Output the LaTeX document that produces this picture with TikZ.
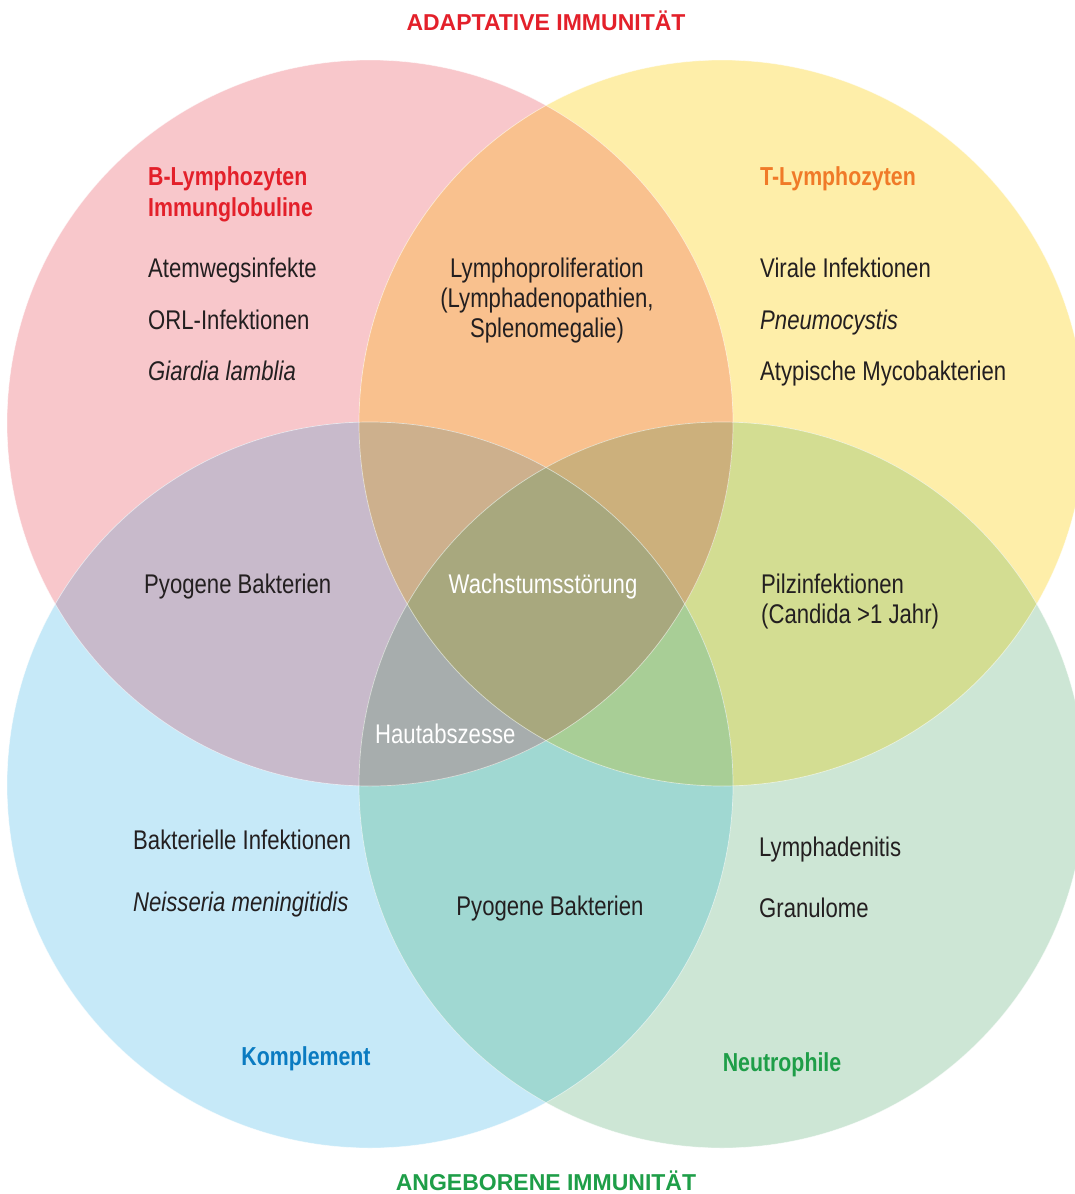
\documentclass[tikz,border=0pt]{standalone}
\usepackage{fontspec}
\setmainfont[FakeStretch=0.82]{Liberation Sans}
\newfontfamily\titlefont{Liberation Sans}
\definecolor{cP}{HTML}{F8C7CB}
\definecolor{cY}{HTML}{FEEEA9}
\definecolor{cB}{HTML}{C6E9F8}
\definecolor{cG}{HTML}{CDE6D5}
\definecolor{cPY}{HTML}{F9C18E}
\definecolor{cPB}{HTML}{C8BACB}
\definecolor{cYG}{HTML}{D3DD92}
\definecolor{cBG}{HTML}{A0D8D2}
\definecolor{cPG}{HTML}{B8B090}
\definecolor{cYB}{HTML}{B8C8A0}
\definecolor{cPYB}{HTML}{CDB08D}
\definecolor{cPYG}{HTML}{CCB07C}
\definecolor{cPBG}{HTML}{A7ADAD}
\definecolor{cYBG}{HTML}{A8CE96}
\definecolor{cPYBG}{HTML}{A8A87E}
\definecolor{ctext}{HTML}{231F20}
\definecolor{cred}{HTML}{E3202A}
\definecolor{corange}{HTML}{F07A28}
\definecolor{cbluet}{HTML}{0A7BC1}
\definecolor{cgreent}{HTML}{1E9E48}
\tikzset{
  lbl/.style={anchor=base west, inner sep=0pt, text=ctext, font=\fontsize{27}{32}\selectfont},
  clbl/.style={anchor=base, inner sep=0pt, text=ctext, font=\fontsize{27}{32}\selectfont, align=center},
  hdr/.style={anchor=base west, inner sep=0pt, font=\fontsize{26}{31}\selectfont\bfseries},
  chdr/.style={anchor=base, inner sep=0pt, font=\fontsize{26}{31}\selectfont\bfseries},
  ttl/.style={anchor=base, inner sep=0pt, font=\fontsize{23}{28}\selectfont\titlefont\bfseries},
  wlbl/.style={anchor=base west, inner sep=0pt, text=white, font=\fontsize{27}{32}\selectfont},
  rim/.style={draw=white, draw opacity=0.55, line width=0.7pt}
}
\def\cirP{(370,423) circle[radius=363]}
\def\cirY{(722,423) circle[radius=363]}
\def\cirB{(370,785) circle[radius=363]}
\def\cirG{(722,785) circle[radius=363]}
\begin{document}
\begin{tikzpicture}[x=1pt,y=-1pt]
\useasboundingbox (0,0) rectangle (1075,1194);
\begin{scope}
\clip (0,0) rectangle (1075,1194);
% single circles
\fill[cP] \cirP;
\fill[cY] \cirY;
\fill[cB] \cirB;
\fill[cG] \cirG;
% pairs
\begin{scope}\clip \cirP; \fill[cPY] \cirY; \end{scope}
\begin{scope}\clip \cirP; \fill[cPB] \cirB; \end{scope}
\begin{scope}\clip \cirY; \fill[cYG] \cirG; \end{scope}
\begin{scope}\clip \cirB; \fill[cBG] \cirG; \end{scope}
\begin{scope}\clip \cirP; \fill[cPG] \cirG; \end{scope}
\begin{scope}\clip \cirY; \fill[cYB] \cirB; \end{scope}
% triples
\begin{scope}\clip \cirP; \clip \cirY; \fill[cPYB] \cirB; \end{scope}
\begin{scope}\clip \cirP; \clip \cirY; \fill[cPYG] \cirG; \end{scope}
\begin{scope}\clip \cirP; \clip \cirB; \fill[cPBG] \cirG; \end{scope}
\begin{scope}\clip \cirY; \clip \cirB; \fill[cYBG] \cirG; \end{scope}
% all four
\begin{scope}\clip \cirP; \clip \cirY; \clip \cirB; \fill[cPYBG] \cirG; \end{scope}
% rims
\draw[rim] \cirP;
\draw[rim] \cirY;
\draw[rim] \cirB;
\draw[rim] \cirG;
\end{scope}

\node[ttl, text=cred] (tadapt) at (546,30) {ADAPTATIVE IMMUNITÄT};
\node[ttl, text=cgreent] (tangeb) at (546,1190) {ANGEBORENE IMMUNITÄT};

\node[hdr, text=cred] (hb1) at (148,185) {B-Lymphozyten};
\node[hdr, text=cred] (hb2) at (148,216) {Immunglobuline};
\node[lbl] (b1) at (148,277) {Atemwegsinfekte};
\node[lbl] (b2) at (148,329) {ORL-Infektionen};
\node[lbl] (b3) at (148,380) {\itshape Giardia lamblia};

\node[clbl] (bt1) at (547,277) {Lymphoproliferation};
\node[clbl] (bt2) at (547,307) {(Lymphadenopathien,};
\node[clbl] (bt3) at (547,337) {Splenomegalie)};

\node[hdr, text=corange] (ht) at (760,185) {T-Lymphozyten};
\node[lbl] (t1) at (760,277) {Virale Infektionen};
\node[lbl] (t2) at (760,329) {\itshape Pneumocystis};
\node[lbl] (t3) at (760,380) {Atypische Mycobakterien};

\node[lbl] (bk) at (144,593) {Pyogene Bakterien};
\node[clbl, text=white] (all) at (543,593) {Wachstumsstörung};
\node[lbl] (tn1) at (761,593) {Pilzinfektionen};
\node[lbl] (tn2) at (761,623) {(Candida >1 Jahr)};
\node[wlbl] (bkn) at (375,743) {Hautabszesse};

\node[lbl] (k1) at (133,849) {Bakterielle Infektionen};
\node[lbl] (k2) at (133,911) {\itshape Neisseria meningitidis};
\node[clbl] (kn) at (550,915) {Pyogene Bakterien};
\node[lbl] (n1) at (759,856) {Lymphadenitis};
\node[lbl] (n2) at (759,917) {Granulome};

\node[chdr, text=cbluet] (hk) at (306,1065) {Komplement};
\node[chdr, text=cgreent] (hn) at (782,1071) {Neutrophile};
\end{tikzpicture}
\end{document}
